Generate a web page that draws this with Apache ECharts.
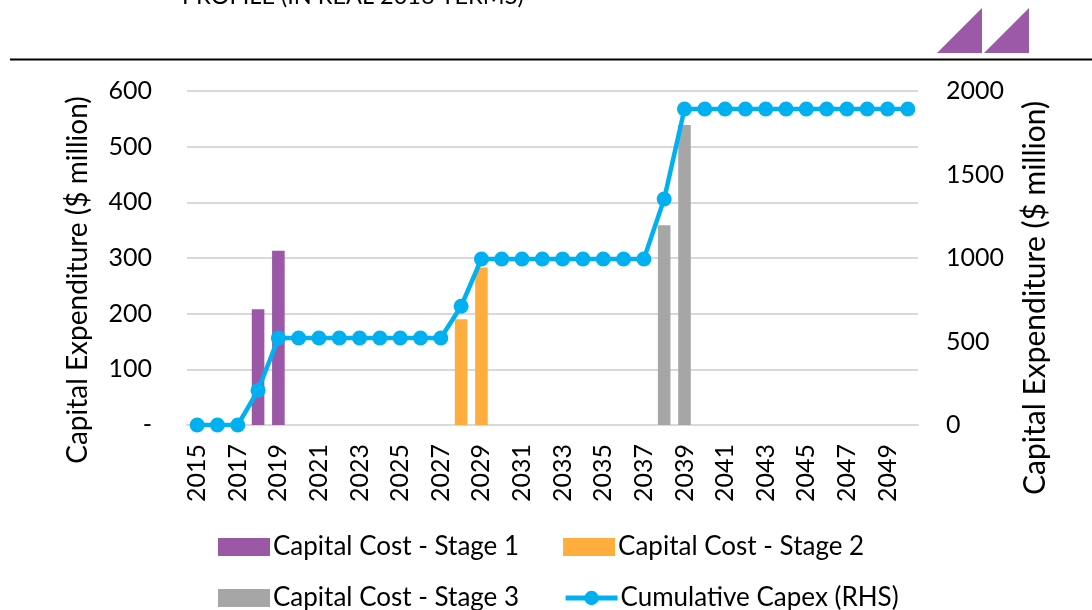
<!DOCTYPE html>
<html>
<head>
<meta charset="utf-8">
<script src="https://cdn.jsdelivr.net/npm/echarts@6/dist/echarts.min.js"></script>
<style>
  html, body { margin: 0; padding: 0; background: #fff; }
  #chart { width: 1092px; height: 610px; }
</style>
</head>
<body>
<div id="chart"></div>
<script>
// years 2015 - 2050
const years = []
for (let y = 2015; y <= 2050; y++) years.push(String(y))

// capital cost per stage ($ million), null where nothing is spent
const stage1 = [null, null, null, 208, 313, null, null, null, null, null, null, null, null, null, null, null, null, null, null, null, null, null, null, null, null, null, null, null, null, null, null, null, null, null, null, null]
const stage2 = [null, null, null, null, null, null, null, null, null, null, null, null, null, 190, 283, null, null, null, null, null, null, null, null, null, null, null, null, null, null, null, null, null, null, null, null, null]
const stage3 = [null, null, null, null, null, null, null, null, null, null, null, null, null, null, null, null, null, null, null, null, null, null, null, 359, 539, null, null, null, null, null, null, null, null, null, null, null]

// cumulative capex (RHS)
const cumulative = [0, 0, 0, 208, 521, 521, 521, 521, 521, 521, 521, 521, 521, 711, 994, 994, 994, 994, 994, 994, 994, 994, 994, 1353, 1892, 1892, 1892, 1892, 1892, 1892, 1892, 1892, 1892, 1892, 1892, 1892]

const leftTicks = [0, 600, 100]
const rightTicks = [0, 2000, 500]

const FONT = 'Lato'
const chart = echarts.init(document.getElementById('chart'))

// two legend rows, laid out like the original
const legendBase = {
  left: 213,
  itemWidth: 52,
  itemHeight: 18,
  itemGap: 44,
  textStyle: { fontFamily: FONT, fontSize: 26, color: '#000', padding: [0, 0, 0, -2] }
}

chart.setOption({
  animation: false,
  textStyle: { fontFamily: FONT, color: '#000' },
  grid: { left: 187, right: 174, top: 91, bottom: 185 },
  legend: [
    {
      ...legendBase,
      top: 529,
      data: [
        { name: 'Capital Cost - Stage 1', icon: 'rect' },
        { name: 'Capital Cost - Stage 2', icon: 'rect' }
      ]
    },
    {
      ...legendBase,
      top: 580,
      data: [
        { name: 'Capital Cost - Stage 3', icon: 'rect' },
        { name: 'Cumulative Capex (RHS)', lineStyle: { width: 5 } }
      ]
    }
  ],
  xAxis: {
    type: 'category',
    data: years,
    axisLine: { lineStyle: { color: '#d9d9d9', width: 2 } },
    axisTick: { show: false },
    axisLabel: {
      rotate: 90,
      interval: 1,
      margin: 19,
      fontSize: 25,
      color: '#000'
    }
  },
  yAxis: [
    {
      type: 'value',
      min: leftTicks[0],
      max: leftTicks[1],
      interval: leftTicks[2],
      axisLine: { show: false },
      axisTick: { show: false },
      splitLine: { lineStyle: { color: '#d9d9d9', width: 2 } },
      axisLabel: {
        margin: 35,
        fontSize: 25,
        color: '#000',
        formatter: v => (v === 0 ? '-' : String(v))
      }
    },
    {
      type: 'value',
      min: rightTicks[0],
      max: rightTicks[1],
      interval: rightTicks[2],
      axisLine: { show: false },
      axisTick: { show: false },
      splitLine: { show: false },
      axisLabel: { margin: 28, fontSize: 25, color: '#000', formatter: v => String(v) }
    }
  ],
  graphic: [
    {
      type: 'text',
      left: 182,
      top: -16,
      style: { text: 'PROFILE (IN REAL 2016 TERMS)', font: '23.5px Lato', fill: '#000' }
    },
    {
      type: 'line',
      shape: { x1: 10, y1: 59.5, x2: 1092, y2: 59.5 },
      style: { stroke: '#000', lineWidth: 2 }
    },
    {
      type: 'polygon',
      shape: { points: [[937, 53], [982, 8], [982, 53]] },
      style: { fill: '#9b59a8' }
    },
    {
      type: 'polygon',
      shape: { points: [[984, 53], [1029, 8], [1029, 53]] },
      style: { fill: '#9b59a8' }
    },
    {
      type: 'text',
      x: 78,
      y: 280,
      rotation: Math.PI / 2,
      style: {
        text: 'Capital Expenditure ($ million)',
        font: '28px Lato',
        fill: '#000',
        align: 'center',
        verticalAlign: 'middle'
      }
    },
    {
      type: 'text',
      x: 1035,
      y: 298,
      rotation: Math.PI / 2,
      style: {
        text: 'Capital Expenditure ($ million)',
        font: '30px Lato',
        fill: '#000',
        align: 'center',
        verticalAlign: 'middle'
      }
    }
  ],
  series: [
    {
      name: 'Capital Cost - Stage 1',
      type: 'bar',
      stack: 'capex',
      barWidth: '62%',
      data: stage1,
      itemStyle: { color: '#9a58a6' }
    },
    {
      name: 'Capital Cost - Stage 2',
      type: 'bar',
      stack: 'capex',
      data: stage2,
      itemStyle: { color: '#ffae3d' }
    },
    {
      name: 'Capital Cost - Stage 3',
      type: 'bar',
      stack: 'capex',
      data: stage3,
      itemStyle: { color: '#a6a6a6' }
    },
    {
      name: 'Cumulative Capex (RHS)',
      type: 'line',
      yAxisIndex: 1,
      data: cumulative,
      symbol: 'circle',
      symbolSize: 15,
      showAllSymbol: true,
      z: 5,
      lineStyle: { color: '#00b0f0', width: 4.5 },
      itemStyle: { color: '#00b0f0' }
    }
  ]
})
</script>
</body>
</html>
